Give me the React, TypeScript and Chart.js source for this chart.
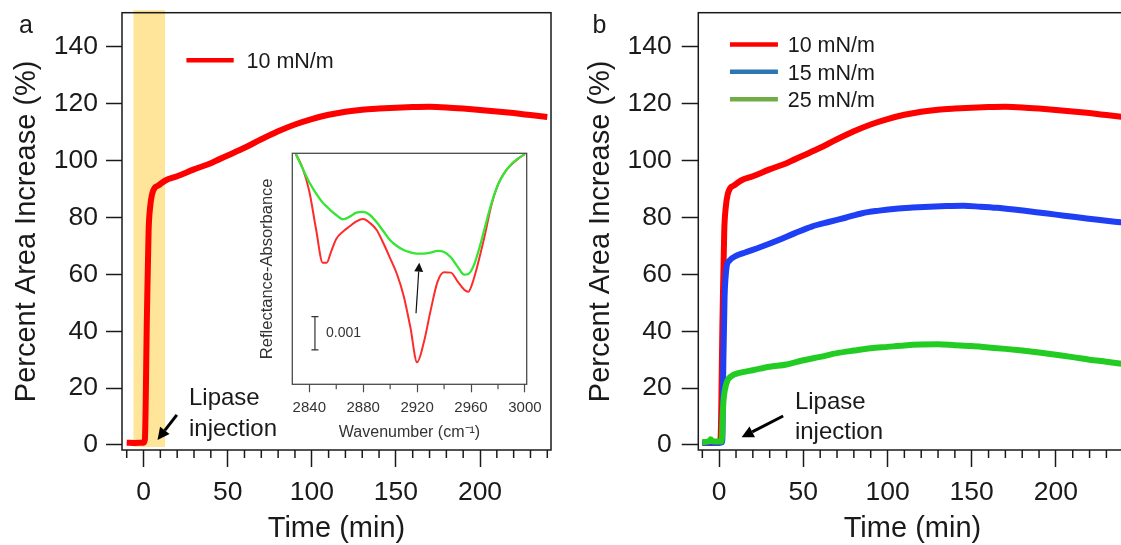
import React, { useEffect, useRef } from 'react';
import { Chart, registerables } from 'chart.js';

Chart.register(...registerables);

const FONT = "'Liberation Sans', Arial, Helvetica, sans-serif";
const INK = '#1a1a1a';

// ---------------- data: main panels (time in min, percent area increase) ----------------
const time10 = [-10, -5, 0, 0.8, 2, 3, 4, 5, 6.5, 9, 13, 20, 30, 40, 50, 60, 70, 80, 90, 100, 110, 120, 130, 140, 150, 160, 170, 180, 190, 200, 210, 220, 230, 240];
const area10 = [0.8, 0.7, 0.8, 2, 45, 75, 84, 88, 90.3, 91.3, 93, 94.5, 96.9, 99.1, 101.8, 104.5, 107.5, 110.3, 112.7, 114.6, 116.1, 117.2, 117.9, 118.3, 118.6, 118.8, 118.9, 118.7, 118.3, 117.8, 117.3, 116.7, 116.0, 115.3];

const time15 = [-10, -5, 0, 1.8, 2.5, 3.2, 3.8, 4.5, 6, 10, 15, 25, 35, 45, 55, 65, 75, 85, 95, 105, 115, 125, 135, 145, 155, 165, 175, 185, 195, 205, 215, 225, 240];
const area15 = [0.8, 0.8, 0.8, 1, 30, 52, 59, 63, 64.8, 66.5, 67.6, 69.7, 72, 74.5, 76.8, 78.4, 79.9, 81.5, 82.4, 83.1, 83.5, 83.8, 84.0, 84.1, 83.8, 83.4, 82.8, 82.1, 81.4, 80.6, 79.9, 79.2, 78.2];

const time25 = [-10, -6, -5, -4, 0, 1.5, 2, 2.5, 3, 4, 5, 6, 8, 10, 14, 20, 30, 40, 50, 60, 70, 80, 90, 100, 110, 120, 130, 140, 150, 160, 170, 180, 190, 200, 210, 220, 230, 240];
const area25 = [1.0, 1.3, 2.0, 1.3, 1.2, 1.3, 9, 15, 18, 21, 22.8, 23.6, 24.5, 25, 25.6, 26.3, 27.5, 28.3, 29.8, 31, 32.3, 33.2, 34, 34.5, 35, 35.3, 35.4, 35.1, 34.8, 34.3, 33.8, 33.2, 32.5, 31.7, 30.9, 30.0, 29.3, 28.5];

const legendLabels = ['10 mN/m', '15 mN/m', '25 mN/m'];
const xMajorTicks = [0, 50, 100, 150, 200];
const xMinorTicks = [-10, 10, 20, 30, 40, 60, 70, 80, 90, 110, 120, 130, 140, 160, 170, 180, 190, 210, 220, 230, 240];
const yTicks = [0, 20, 40, 60, 80, 100, 120, 140];
const shadeRange = [-6, 12.8]; // lipase injection window (min)

// ---------------- data: inset (wavenumber cm-1, reflectance-absorbance) ----------------
const wavenumber = [2830, 2835, 2840, 2845, 2850, 2853, 2856, 2860, 2865, 2870, 2875, 2880, 2885, 2890, 2895, 2900, 2905, 2910, 2915, 2920, 2925, 2930, 2935, 2940, 2945, 2950, 2955, 2958, 2962, 2966, 2970, 2975, 2980, 2985, 2990, 2995, 3000];
const absBefore = [0, -0.00042, -0.00112, -0.00225, -0.00326, -0.00326, -0.00295, -0.00255, -0.00233, -0.00217, -0.00202, -0.00195, -0.00207, -0.00228, -0.00268, -0.00313, -0.0036, -0.00425, -0.0052, -0.00625, -0.00565, -0.0047, -0.00385, -0.00355, -0.00356, -0.00382, -0.00407, -0.00413, -0.00375, -0.00315, -0.00248, -0.00155, -0.00092, -0.00055, -0.00032, -0.00014, 0];
const absAfter = [0, -0.00043, -0.00085, -0.00118, -0.00146, -0.00158, -0.0017, -0.00183, -0.00196, -0.00188, -0.00176, -0.00174, -0.00183, -0.00205, -0.00232, -0.00259, -0.00276, -0.00288, -0.00295, -0.00299, -0.00299, -0.00296, -0.00291, -0.00294, -0.0031, -0.00338, -0.00362, -0.0036, -0.00335, -0.00285, -0.00225, -0.0015, -0.00092, -0.00055, -0.0003, -0.00013, 0];
const insetMajorTicks = [2840, 2880, 2920, 2960, 3000];
const insetMinorTicks = [2860, 2900, 2940, 2980];

// ---------------- colours ----------------
const RED = '#ff0000';
const BLUE = '#1f3ff5';
const GREEN = '#22cc22';
const LEG_BLUE = '#2e75b6';
const LEG_GREEN = '#70ad47';
const SHADE = '#ffe599';

// ---------------- helpers ----------------
const pts = (xs: number[], ys: number[]) => xs.map((x, i) => ({ x, y: ys[i] }));

function fixAxis(size: number, horizontal: boolean) {
  return (scale: any) => {
    if (horizontal) scale.height = size;
    else scale.width = size;
    scale.paddingTop = 0;
    scale.paddingBottom = 0;
    scale.paddingLeft = 0;
    scale.paddingRight = 0;
  };
}

function setTicks(values: number[]) {
  return (scale: any) => {
    scale.ticks = values.map((v) => ({ value: v }));
  };
}

function drawArrow(ctx: CanvasRenderingContext2D, x1: number, y1: number, x2: number, y2: number, lw: number, headLen: number, headHalf: number, color: string) {
  const ang = Math.atan2(y2 - y1, x2 - x1);
  const bx = x2 - headLen * Math.cos(ang);
  const by = y2 - headLen * Math.sin(ang);
  ctx.strokeStyle = color;
  ctx.fillStyle = color;
  ctx.lineWidth = lw;
  ctx.beginPath();
  ctx.moveTo(x1, y1);
  ctx.lineTo(bx, by);
  ctx.stroke();
  ctx.beginPath();
  ctx.moveTo(x2, y2);
  ctx.lineTo(bx + headHalf * Math.sin(ang), by - headHalf * Math.cos(ang));
  ctx.lineTo(bx - headHalf * Math.sin(ang), by + headHalf * Math.cos(ang));
  ctx.closePath();
  ctx.fill();
}

function drawFrame(chart: any, color: string, lw: number) {
  const { ctx, chartArea: a } = chart;
  ctx.strokeStyle = color;
  ctx.lineWidth = lw;
  ctx.strokeRect(a.left, a.top, a.right - a.left, a.bottom - a.top);
}

function drawMinor(chart: any, ticks: number[], len: number, color: string, lw: number) {
  const { ctx, chartArea: a, scales } = chart;
  ctx.strokeStyle = color;
  ctx.lineWidth = lw;
  ticks.forEach((v) => {
    const x = scales.x.getPixelForValue(v);
    if (x < a.left - 0.5 || x > a.right + 0.5) return;
    ctx.beginPath();
    ctx.moveTo(x, a.bottom);
    ctx.lineTo(x, a.bottom + len);
    ctx.stroke();
  });
}

function makePlugin(before: ((c: any) => void) | null, after: (c: any) => void, bg?: (c: any) => void) {
  return {
    id: 'custom' + Math.random().toString(36).slice(2),
    beforeDraw(chart: any) {
      if (!bg) return;
      chart.ctx.save();
      bg(chart);
      chart.ctx.restore();
    },
    beforeDatasetsDraw(chart: any) {
      if (!before) return;
      chart.ctx.save();
      before(chart);
      chart.ctx.restore();
    },
    afterDraw(chart: any) {
      chart.ctx.save();
      after(chart);
      chart.ctx.restore();
    },
  };
}

function mainOptions(p: { xMin: number; xMax: number; yAxisWidth: number; yTickLen: number; yTickPad: number; yTitlePad: number; padRight: number }) {
  return {
    responsive: false,
    animation: false as const,
    devicePixelRatio: 1,
    events: [] as any[],
    layout: { padding: { top: 12.7, right: p.padRight, left: 0, bottom: 0 } },
    plugins: { legend: { display: false }, tooltip: { enabled: false } },
    scales: {
      x: {
        type: 'linear' as const,
        min: p.xMin,
        max: p.xMax,
        afterFit: fixAxis(95, true),
        afterBuildTicks: setTicks(xMajorTicks),
        border: { display: false },
        grid: { drawOnChartArea: false, drawTicks: true, tickLength: 17, tickWidth: 1.5, tickColor: INK },
        ticks: { font: { family: FONT, size: 26.5 }, color: INK, padding: 9.6, autoSkip: false, maxRotation: 0, callback: (v: any) => String(v) },
        title: { display: true, text: 'Time (min)', font: { family: FONT, size: 29, lineHeight: 1 }, color: INK, padding: { top: 0, bottom: 2 } },
      },
      y: {
        type: 'linear' as const,
        min: -1.76,
        max: 152,
        afterFit: fixAxis(p.yAxisWidth, false),
        afterBuildTicks: setTicks(yTicks),
        border: { display: false },
        grid: { drawOnChartArea: false, drawTicks: true, tickLength: p.yTickLen, tickWidth: 1.5, tickColor: INK },
        ticks: { font: { family: FONT, size: 26.5 }, color: INK, padding: p.yTickPad, autoSkip: false, callback: (v: any) => String(v) },
        title: { display: true, text: 'Percent Area Increase (%)', font: { family: FONT, size: 29, lineHeight: 1 }, color: INK, padding: { top: p.yTitlePad, bottom: 0 } },
      },
    },
  };
}

const lineDs = (data: any[], color: string, order: number, width = 6) => ({
  data,
  borderColor: color,
  backgroundColor: color,
  borderWidth: width,
  pointRadius: 0,
  fill: false,
  cubicInterpolationMode: 'monotone' as const,
  order,
});

function lipaseNote(chart: any, tx: number, ty1: number, ty2: number, ax1: number, ay1: number, ax2: number, ay2: number) {
  const { ctx, scales } = chart;
  const X = (v: number) => scales.x.getPixelForValue(v);
  const Y = (v: number) => scales.y.getPixelForValue(v);
  ctx.fillStyle = INK;
  ctx.font = `24px ${FONT}`;
  ctx.textAlign = 'left';
  ctx.textBaseline = 'alphabetic';
  ctx.fillText('Lipase', X(tx), Y(ty1));
  ctx.fillText('injection', X(tx), Y(ty2));
  drawArrow(ctx, X(ax1), Y(ay1), X(ax2), Y(ay2), 3, 12, 6, '#000');
}

function legendRow(chart: any, x1: number, x2: number, y: number, tx: number, color: string, label: string) {
  const { ctx, scales } = chart;
  const X = (v: number) => scales.x.getPixelForValue(v);
  const py = scales.y.getPixelForValue(y);
  ctx.strokeStyle = color;
  ctx.lineWidth = 4.5;
  ctx.beginPath();
  ctx.moveTo(X(x1), py);
  ctx.lineTo(X(x2), py);
  ctx.stroke();
  ctx.fillStyle = INK;
  ctx.font = `21.5px ${FONT}`;
  ctx.textAlign = 'left';
  ctx.textBaseline = 'middle';
  ctx.fillText(label, X(tx), py + 2);
}

function panelLetter(chart: any, letter: string, x: number) {
  const { ctx } = chart;
  ctx.fillStyle = INK;
  ctx.font = `25px ${FONT}`;
  ctx.textAlign = 'center';
  ctx.textBaseline = 'alphabetic';
  ctx.fillText(letter, x, 33.3);
}

export default function App() {
  const aRef = useRef<HTMLCanvasElement>(null);
  const bRef = useRef<HTMLCanvasElement>(null);
  const iRef = useRef<HTMLCanvasElement>(null);

  useEffect(() => {
    Chart.defaults.font.family = FONT;
    const charts: Chart[] = [];

    // ---------- panel a ----------
    const shadePlugin = (chart: any) => {
      const { ctx, chartArea: a, scales } = chart;
      const x1 = scales.x.getPixelForValue(shadeRange[0]);
      const x2 = scales.x.getPixelForValue(shadeRange[1]);
      const yb = scales.y.getPixelForValue(-0.7);
      ctx.fillStyle = SHADE;
      ctx.fillRect(x1, a.top - 2.5, x2 - x1, yb - (a.top - 2.5));
    };
    const afterA = (chart: any) => {
      drawFrame(chart, INK, 1.5);
      drawMinor(chart, xMinorTicks, 8, INK, 1.5);
      legendRow(chart, 25.5, 53.6, 135.3, 61.2, RED, legendLabels[0]);
      lipaseNote(chart, 27, 14.1, 3.2, 19.8, 10.6, 8.3, 1.8);
      panelLetter(chart, 'a', 26);
    };
    charts.push(
      new Chart(aRef.current as HTMLCanvasElement, {
        type: 'line',
        data: { datasets: [lineDs(pts(time10, area10), RED, 0) as any] },
        options: mainOptions({ xMin: -12.8, xMax: 242.2, yAxisWidth: 122, yTickLen: 16, yTickPad: 8, yTitlePad: 12, padRight: 9 }) as any,
        plugins: [makePlugin(shadePlugin, afterA)],
      })
    );

    // ---------- panel b ----------
    const afterB = (chart: any) => {
      drawFrame(chart, INK, 1.5);
      drawMinor(chart, xMinorTicks, 8, INK, 1.5);
      legendRow(chart, 6.4, 34.9, 140.8, 40.7, RED, legendLabels[0]);
      legendRow(chart, 6.4, 34.9, 131.2, 40.7, LEG_BLUE, legendLabels[1]);
      legendRow(chart, 6.4, 34.9, 121.6, 40.7, LEG_GREEN, legendLabels[2]);
      lipaseNote(chart, 45, 12.65, 2.1, 38, 10.2, 13.3, 2.7);
      panelLetter(chart, 'b', 39.5);
    };
    charts.push(
      new Chart(bRef.current as HTMLCanvasElement, {
        type: 'line',
        data: {
          datasets: [
            lineDs(pts(time10, area10), RED, 2) as any,
            lineDs(pts(time15, area15), BLUE, 1) as any,
            lineDs(pts(time25, area25), GREEN, 0) as any,
          ],
        },
        options: mainOptions({ xMin: -12.4, xMax: 242, yAxisWidth: 138.3, yTickLen: 16.6, yTickPad: 10, yTitlePad: 26.5, padRight: 13.4 }) as any,
        plugins: [makePlugin(null, afterB)],
      })
    );

    // ---------- inset ----------
    const insetBg = (chart: any) => {
      const { ctx, chartArea: a } = chart;
      ctx.fillStyle = '#ffffff';
      ctx.fillRect(a.left, a.top, a.right - a.left, a.bottom - a.top);
    };
    const afterI = (chart: any) => {
      const { ctx, scales } = chart;
      const X = (v: number) => scales.x.getPixelForValue(v);
      const Y = (v: number) => scales.y.getPixelForValue(v);
      drawFrame(chart, '#4a4a4a', 1.3);
      drawMinor(chart, insetMinorTicks, 5, '#4a4a4a', 1.2);
      // scale bar (0.001)
      const sx = X(2844.2);
      const sy1 = Y(-0.00488);
      const sy2 = Y(-0.00588);
      ctx.strokeStyle = '#333';
      ctx.lineWidth = 1.2;
      ctx.beginPath();
      ctx.moveTo(sx, sy1);
      ctx.lineTo(sx, sy2);
      ctx.moveTo(sx - 3.5, sy1);
      ctx.lineTo(sx + 3.5, sy1);
      ctx.moveTo(sx - 3.5, sy2);
      ctx.lineTo(sx + 3.5, sy2);
      ctx.stroke();
      ctx.fillStyle = '#333';
      ctx.font = `14px ${FONT}`;
      ctx.textAlign = 'left';
      ctx.textBaseline = 'middle';
      ctx.fillText('0.001', X(2852.4), Y(-0.00538));
      // arrow
      drawArrow(ctx, X(2919.2), Y(-0.00478), X(2921.6), Y(-0.00326), 1.2, 9, 4.5, '#111');
    };
    charts.push(
      new Chart(iRef.current as HTMLCanvasElement, {
        type: 'line',
        data: {
          datasets: [
            lineDs(pts(wavenumber, absBefore), '#ff2a2a', 1, 2) as any,
            lineDs(pts(wavenumber, absAfter), '#33e633', 0, 2.3) as any,
          ],
        },
        options: {
          responsive: false,
          animation: false,
          devicePixelRatio: 1,
          events: [],
          layout: { padding: { top: 13.3, right: 23.3, left: 0, bottom: 0 } },
          plugins: { legend: { display: false }, tooltip: { enabled: false } },
          scales: {
            x: {
              type: 'linear',
              min: 2827.4,
              max: 3001.3,
              afterFit: fixAxis(65.7, true),
              afterBuildTicks: setTicks(insetMajorTicks),
              border: { display: false },
              grid: { drawOnChartArea: false, drawTicks: true, tickLength: 8, tickWidth: 1.2, tickColor: '#4a4a4a' },
              ticks: { font: { family: FONT, size: 15 }, color: '#333', padding: 6.7, autoSkip: false, maxRotation: 0, callback: (v: any) => String(v) },
              title: { display: true, text: 'Wavenumber (cm\u207B\u00B9)', font: { family: FONT, size: 16 }, color: '#333', padding: { top: 0, bottom: 7.5 } },
            },
            y: {
              type: 'linear',
              min: -0.00691,
              max: 0.00002,
              afterFit: fixAxis(62.3, false),
              border: { display: false },
              grid: { display: false },
              ticks: { display: false },
              title: { display: true, text: 'Reflectance-Absorbance', font: { family: FONT, size: 16.5 }, color: '#333', padding: { top: 28, bottom: 0 } },
            },
          },
        } as any,
        plugins: [makePlugin(null, afterI, insetBg)],
      })
    );

    return () => charts.forEach((c) => c.destroy());
  }, []);

  return (
    <div style={{ position: 'fixed', left: 0, top: 0, width: 1121, height: 545, overflow: 'hidden', background: '#ffffff' }}>
      <canvas ref={aRef} width={560} height={545} style={{ position: 'absolute', left: 0, top: 0, width: 560, height: 545 }} />
      <canvas ref={bRef} width={580} height={545} style={{ position: 'absolute', left: 560, top: 0, width: 580, height: 545 }} />
      <canvas ref={iRef} width={320} height={310} style={{ position: 'absolute', left: 230, top: 140, width: 320, height: 310 }} />
    </div>
  );
}
